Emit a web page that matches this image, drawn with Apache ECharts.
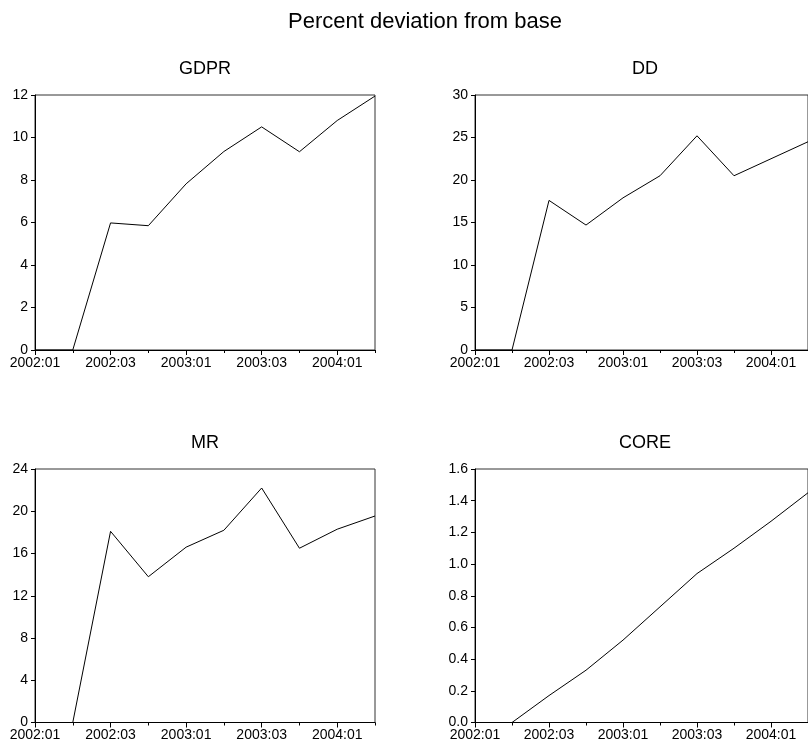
<!DOCTYPE html>
<html>
<head>
<meta charset="utf-8">
<script src="https://cdn.jsdelivr.net/npm/echarts@6/dist/echarts.min.js"></script>
<style>
  html, body { margin: 0; padding: 0; background: #fff; }
  #chart { width: 808px; height: 747px; }
</style>
</head>
<body>
<div id="chart"></div>
<script>
// Quarterly periods on the horizontal axis
var quarters = ['2002:01', '2002:02', '2002:03', '2002:04', '2003:01', '2003:02', '2003:03', '2003:04', '2004:01', '2004:02'];

// Percent deviation from base, per variable
var gdpr = [0, 0, 5.98, 5.85, 7.82, 9.34, 10.5, 9.33, 10.8, 11.95];
var dd   = [0, 0, 17.6, 14.7, 17.9, 20.5, 25.2, 20.5, 22.5, 24.5];
var mr   = [0, 0, 18.1, 13.8, 16.6, 18.2, 22.2, 16.5, 18.3, 19.55];
var core = [0, 0, 0.17, 0.33, 0.52, 0.73, 0.94, 1.10, 1.27, 1.45];

// Panel names and vertical scales
var panelNames = ['GDPR', 'DD', 'MR', 'CORE'];
var panelData = [gdpr, dd, mr, core];
var yMax = [12, 30, 24, 1.6];
var yStep = [2, 5, 4, 0.2];
var yDecimals = [0, 0, 0, 1];

var FONT = '"Liberation Sans", Arial, Helvetica, sans-serif';

var panels = [
  { left: 35,  top: 95,  width: 340, height: 255 },
  { left: 475, top: 95,  width: 340, height: 255 },
  { left: 35,  top: 469, width: 340, height: 253.5 },
  { left: 475, top: 469, width: 340, height: 253.5 }
];

var grids = [], xAxes = [], yAxes = [], series = [];
var titles = [{
  text: 'Percent deviation from base',
  left: 425, top: 11, textAlign: 'center', padding: 0,
  textStyle: { fontFamily: FONT, fontSize: 22, fontWeight: 'normal', color: '#000' }
}];

panels.forEach(function (p, i) {
  grids.push({
    left: p.left, top: p.top, width: p.width, height: p.height,
    show: true, borderColor: '#333', borderWidth: 1, backgroundColor: 'transparent'
  });
  titles.push({
    text: panelNames[i],
    left: p.left + p.width / 2, top: p.top - 35, textAlign: 'center', padding: 0,
    textStyle: { fontFamily: FONT, fontSize: 18, fontWeight: 'normal', color: '#000' }
  });
  // labelled axis: long ticks every other quarter
  xAxes.push({
    type: 'category', gridIndex: i, data: quarters, boundaryGap: false,
    axisLine: { lineStyle: { color: '#000', width: 1 } },
    axisTick: { interval: 1, length: 5, lineStyle: { color: '#000' } },
    axisLabel: { interval: 1, margin: 6, fontFamily: FONT, fontSize: 14, color: '#000' },
    splitLine: { show: false }
  });
  // short ticks for every quarter
  xAxes.push({
    type: 'category', gridIndex: i, data: quarters, boundaryGap: false, position: 'bottom',
    axisLine: { show: false },
    axisTick: { interval: 0, length: 3, lineStyle: { color: '#000' } },
    axisLabel: { show: false },
    splitLine: { show: false }
  });
  yAxes.push({
    type: 'value', gridIndex: i, min: 0, max: yMax[i], interval: yStep[i],
    axisLine: { show: true, lineStyle: { color: '#000', width: 1 } },
    axisTick: { show: true, length: 4, lineStyle: { color: '#000' } },
    axisLabel: {
      margin: 7, fontFamily: FONT, fontSize: 14, color: '#000',
      formatter: (function (d) { return function (v) { return v.toFixed(d); }; })(yDecimals[i])
    },
    splitLine: { show: false }
  });
  series.push({
    type: 'line', name: panelNames[i], xAxisIndex: i * 2, yAxisIndex: i,
    data: panelData[i], symbol: 'none', animation: false,
    lineStyle: { color: '#000', width: 1 }
  });
});

var chart = echarts.init(document.getElementById('chart'), null, { renderer: 'canvas' });
chart.setOption({
  backgroundColor: '#fff',
  animation: false,
  title: titles,
  grid: grids,
  xAxis: xAxes,
  yAxis: yAxes,
  series: series
});
</script>
</body>
</html>
